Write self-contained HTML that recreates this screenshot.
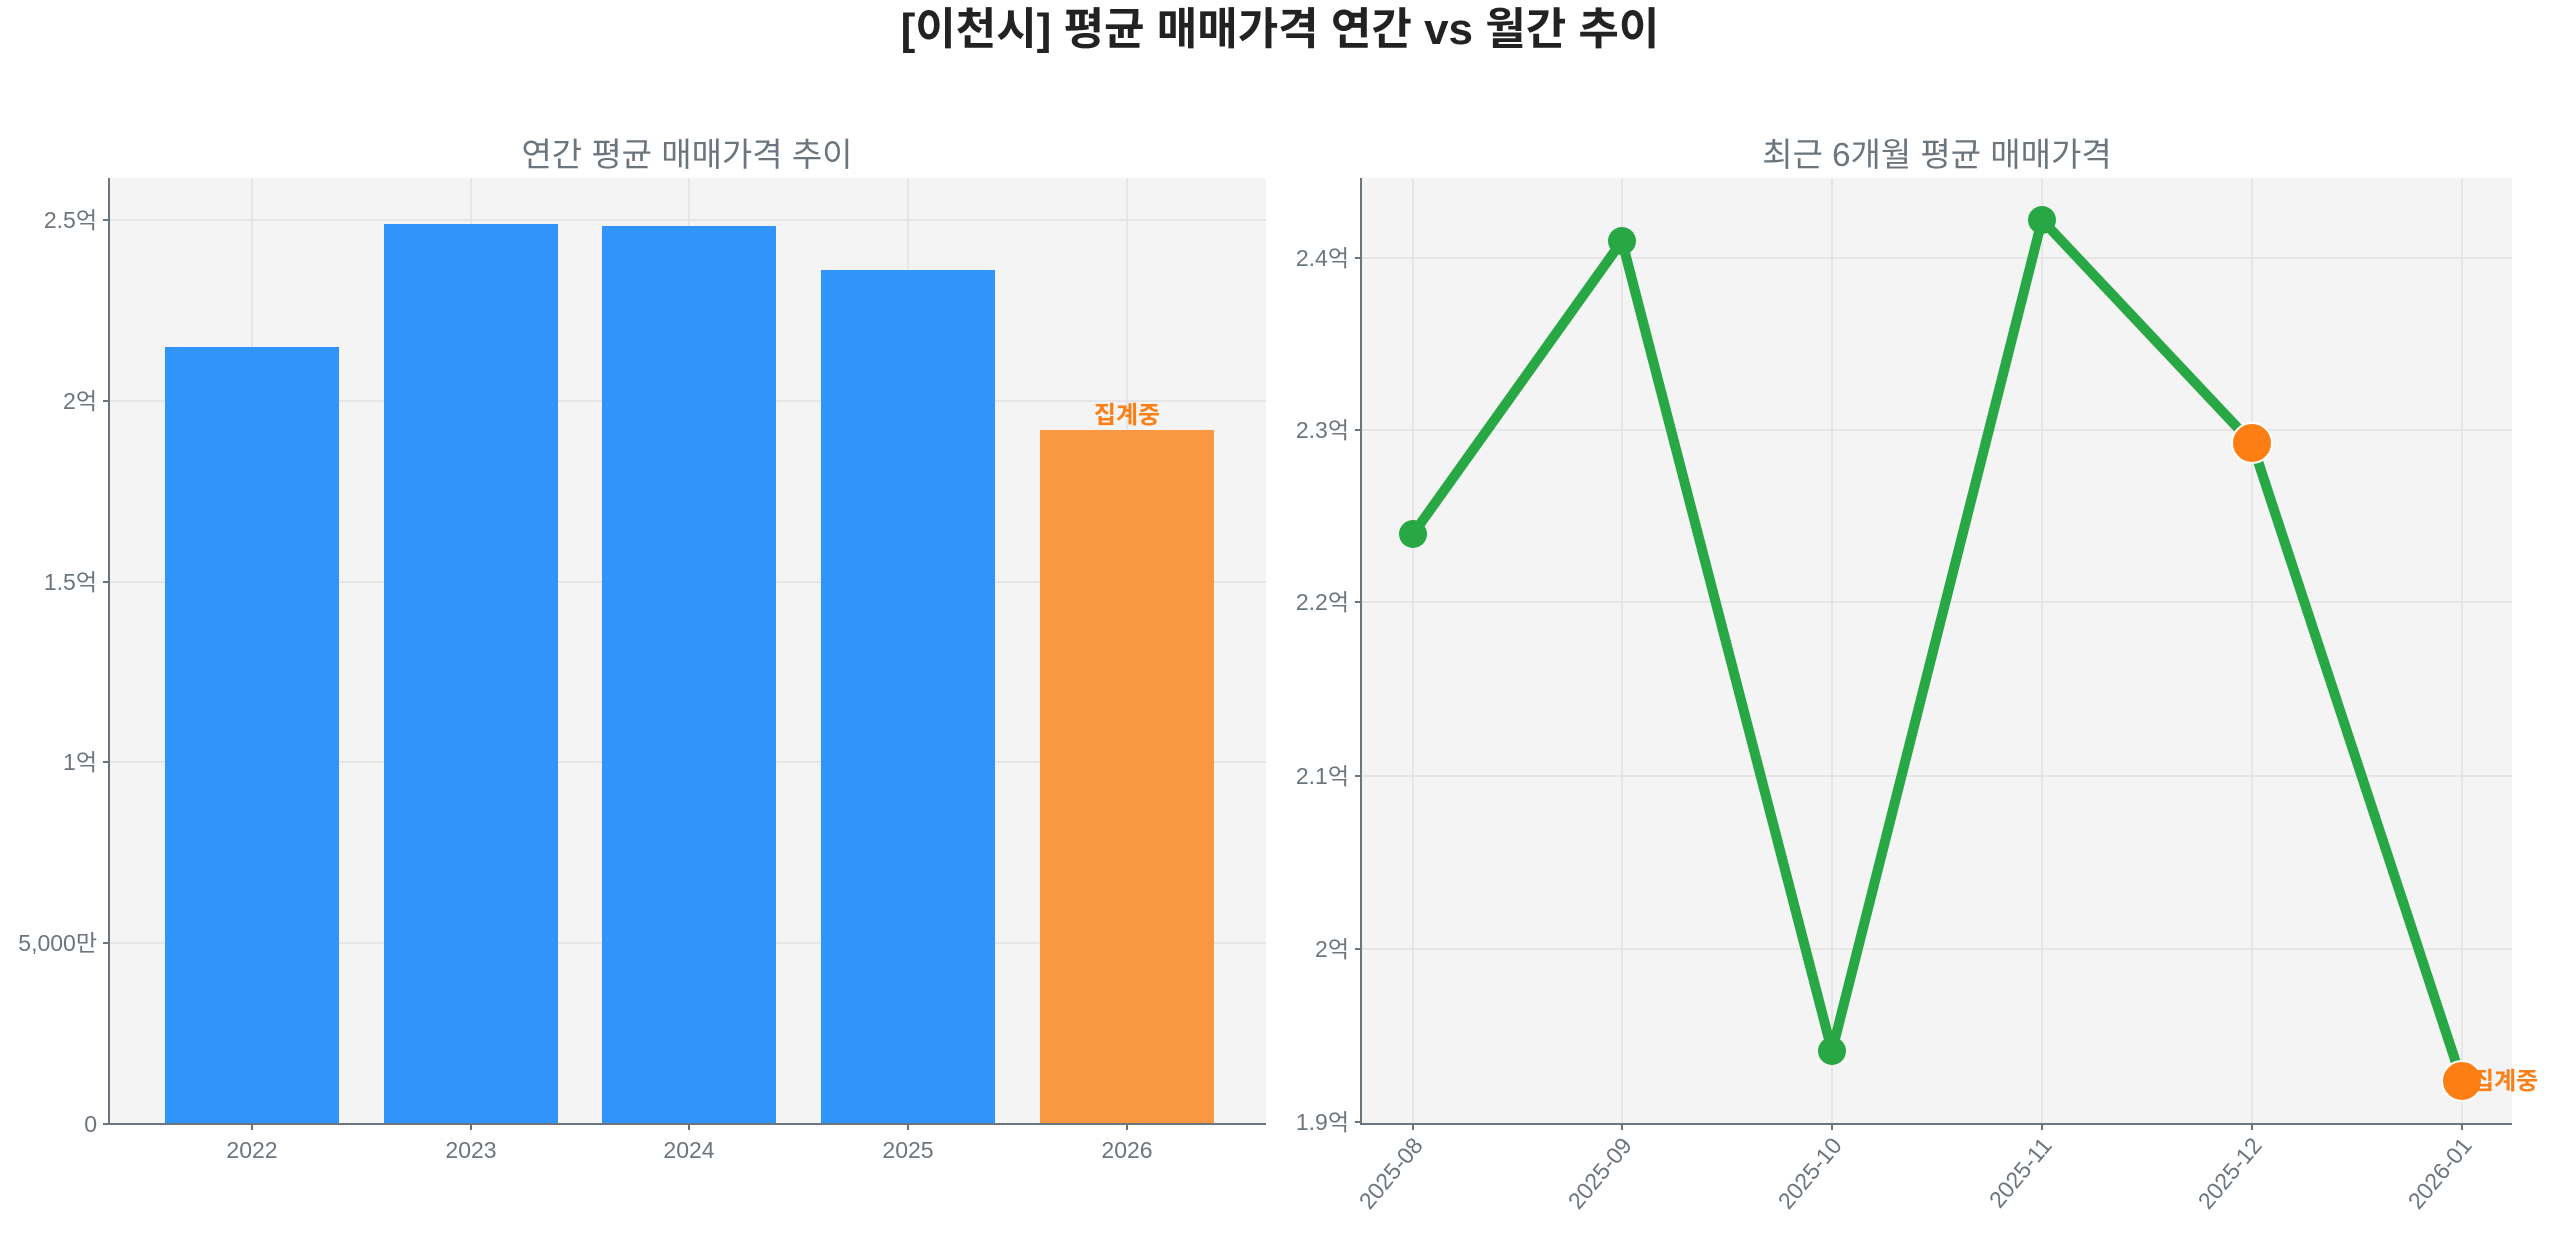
<!DOCTYPE html>
<html><head><meta charset="utf-8"><style>
body{margin:0;background:#fff}
svg text{font-family:"Liberation Sans","Noto Sans CJK KR",sans-serif}
</style></head><body>
<svg width="2560" height="1234" xmlns="http://www.w3.org/2000/svg">
<text x="1280" y="44" text-anchor="middle" font-size="44" font-weight="bold" fill="#222">[이천시] 평균 매매가격 연간 vs 월간 추이</text>
<!-- Left -->
<text x="687" y="166" text-anchor="middle" font-size="33" fill="#6c757d">연간 평균 매매가격 추이</text>
<rect x="109" y="178" width="1157" height="946" fill="#f4f4f4"/>
<g stroke="#e2e2e2" stroke-width="1.5">
<line x1="109" x2="1266" y1="943" y2="943"/><line x1="109" x2="1266" y1="762" y2="762"/><line x1="109" x2="1266" y1="582" y2="582"/><line x1="109" x2="1266" y1="401" y2="401"/><line x1="109" x2="1266" y1="220" y2="220"/>
<line x1="252" x2="252" y1="178" y2="1124"/><line x1="471" x2="471" y1="178" y2="1124"/><line x1="689" x2="689" y1="178" y2="1124"/><line x1="908" x2="908" y1="178" y2="1124"/><line x1="1127" x2="1127" y1="178" y2="1124"/>
</g>
<g fill="#3194fb">
<rect x="165" y="347" width="174" height="777"/><rect x="384" y="224" width="174" height="900"/><rect x="602" y="226" width="174" height="898"/><rect x="821" y="270" width="174" height="854"/>
</g>
<rect x="1040" y="430" width="174" height="694" fill="#f99841"/>
<text x="1127" y="423" text-anchor="middle" font-size="24" font-weight="bold" fill="#fd7e14">집계중</text>
<g stroke="#6c757d" stroke-width="2"><line x1="109" x2="109" y1="178" y2="1125"/><line x1="108" x2="1266" y1="1124" y2="1124"/>
<line x1="103" x2="109" y1="943" y2="943"/><line x1="103" x2="109" y1="762" y2="762"/><line x1="103" x2="109" y1="582" y2="582"/><line x1="103" x2="109" y1="401" y2="401"/><line x1="103" x2="109" y1="220" y2="220"/><line x1="103" x2="109" y1="1124" y2="1124"/>
<line x1="252" x2="252" y1="1124" y2="1130"/><line x1="471" x2="471" y1="1124" y2="1130"/><line x1="689" x2="689" y1="1124" y2="1130"/><line x1="908" x2="908" y1="1124" y2="1130"/><line x1="1127" x2="1127" y1="1124" y2="1130"/></g>
<g fill="#6c757d" font-size="23" text-anchor="end">
<text x="97" y="1132">0</text><text x="97" y="951">5,000만</text><text x="97" y="770">1억</text><text x="97" y="590">1.5억</text><text x="97" y="409">2억</text><text x="97" y="228">2.5억</text>
</g>
<g fill="#6c757d" font-size="23" text-anchor="middle">
<text x="252" y="1158">2022</text><text x="471" y="1158">2023</text><text x="689" y="1158">2024</text><text x="908" y="1158">2025</text><text x="1127" y="1158">2026</text>
</g>
<!-- Right -->
<text x="1937" y="166" text-anchor="middle" font-size="33" fill="#6c757d">최근 6개월 평균 매매가격</text>
<rect x="1361" y="178" width="1151" height="946" fill="#f4f4f4"/>
<g stroke="#e2e2e2" stroke-width="1.5">
<line x1="1361" x2="2512" y1="949" y2="949"/><line x1="1361" x2="2512" y1="776" y2="776"/><line x1="1361" x2="2512" y1="602" y2="602"/><line x1="1361" x2="2512" y1="430" y2="430"/><line x1="1361" x2="2512" y1="258" y2="258"/>
<line x1="1413" x2="1413" y1="178" y2="1124"/><line x1="1622" x2="1622" y1="178" y2="1124"/><line x1="1832" x2="1832" y1="178" y2="1124"/><line x1="2042" x2="2042" y1="178" y2="1124"/><line x1="2252" x2="2252" y1="178" y2="1124"/><line x1="2462" x2="2462" y1="178" y2="1124"/>
</g>
<polyline points="1413,534 1622,241 1832,1051 2042,220 2252,443 2462,1081" fill="none" stroke="#28a745" stroke-width="10" stroke-linejoin="round"/>
<g fill="#28a745"><circle cx="1413" cy="534" r="14"/><circle cx="1622" cy="241" r="14"/><circle cx="1832" cy="1051" r="14"/><circle cx="2042" cy="220" r="14"/></g>
<g fill="#fd7e14" stroke="#fff" stroke-width="2"><circle cx="2252" cy="443" r="20"/><circle cx="2462" cy="1081" r="20"/></g>
<text x="2472" y="1089" font-size="24" font-weight="bold" fill="#fd7e14">집계중</text>
<g stroke="#6c757d" stroke-width="2"><line x1="1361" x2="1361" y1="178" y2="1125"/><line x1="1360" x2="2512" y1="1124" y2="1124"/>
<line x1="1355" x2="1361" y1="1122" y2="1122"/><line x1="1355" x2="1361" y1="949" y2="949"/><line x1="1355" x2="1361" y1="776" y2="776"/><line x1="1355" x2="1361" y1="602" y2="602"/><line x1="1355" x2="1361" y1="430" y2="430"/><line x1="1355" x2="1361" y1="258" y2="258"/>
<line x1="1413" x2="1413" y1="1124" y2="1130"/><line x1="1622" x2="1622" y1="1124" y2="1130"/><line x1="1832" x2="1832" y1="1124" y2="1130"/><line x1="2042" x2="2042" y1="1124" y2="1130"/><line x1="2252" x2="2252" y1="1124" y2="1130"/><line x1="2462" x2="2462" y1="1124" y2="1130"/></g>
<g fill="#6c757d" font-size="23" text-anchor="end">
<text x="1349" y="1130">1.9억</text><text x="1349" y="957">2억</text><text x="1349" y="784">2.1억</text><text x="1349" y="610">2.2억</text><text x="1349" y="438">2.3억</text><text x="1349" y="266">2.4억</text>
</g>
<g fill="#6c757d" font-size="23" text-anchor="end">
<text transform="translate(1424,1146) rotate(-50)">2025-08</text>
<text transform="translate(1633,1146) rotate(-50)">2025-09</text>
<text transform="translate(1843,1146) rotate(-50)">2025-10</text>
<text transform="translate(2053,1146) rotate(-50)">2025-11</text>
<text transform="translate(2263,1146) rotate(-50)">2025-12</text>
<text transform="translate(2473,1146) rotate(-50)">2026-01</text>
</g>
</svg>
</body></html>
